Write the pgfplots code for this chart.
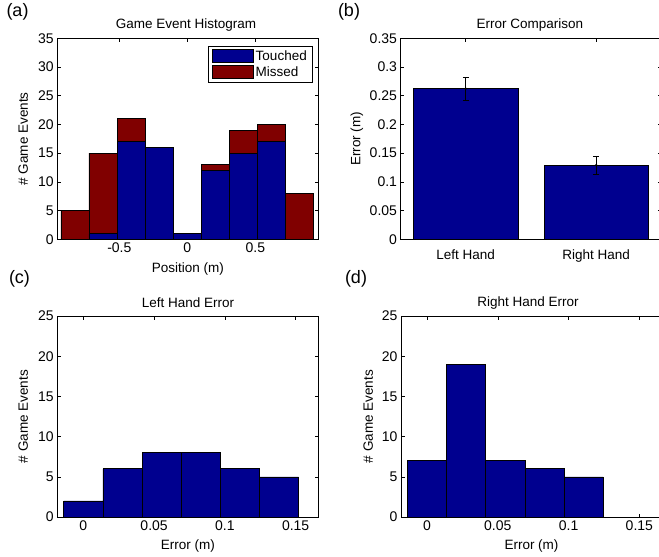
\documentclass[border=0pt]{standalone}
\usepackage{fontspec}
\setmainfont{Liberation Sans}
\usepackage{pgfplots}
\pgfplotsset{compat=1.18}
\definecolor{mblue}{RGB}{0,0,143}
\definecolor{mred}{RGB}{128,0,0}
\newcommand\fs{\fontsize{13.5}{16}\selectfont}
\newcommand\tfs{\fontsize{14}{16}\selectfont}
\pgfplotsset{mstyle/.style={
  width=261pt, height=201pt, scale only axis, anchor=north west,
  axis line style={black, line width=0.7pt},
  tick align=inside, xtick pos=both, ytick pos=both,
  xticklabel pos=lower, yticklabel pos=left,
  major tick length=3.5pt,
  every tick/.style={black, line width=0.6pt},
  tick label style={font=\tfs},
  label style={font=\fs},
  xlabel style={at={(axis description cs:0.5,-0.146)}, anchor=center},
  /pgf/number format/assume math mode=true,
  /pgf/number format/fixed,
  /pgf/number format/precision=2,
  scaled ticks=false,
},
rectlegend/.style={legend image code/.code={\draw[##1] (0pt,-6.5pt) rectangle (41pt,6.5pt);}}}
\begin{document}
\begin{tikzpicture}
\useasboundingbox (0pt,0pt) rectangle (659pt,-557pt);
\clip (0pt,0pt) rectangle (659pt,-557pt);

% (a)
\begin{axis}[mstyle, at={(57.3pt,-38.3pt)},
  ybar stacked, bar width=0.2066,
  xmin=-0.956, xmax=0.963, ymin=0, ymax=35,
  xtick={-0.5,0,0.5}, ytick={0,5,10,15,20,25,30,35},
  xlabel={Position (m)},
  ylabel={\# Game Events},
  ylabel style={at={(axis description cs:-0.131,0.5)}, anchor=center},
  legend style={at={(axis description cs:0.98,0.962)}, anchor=north east,
    font=\fs, draw=black, line width=0.6pt, inner xsep=4pt, inner ysep=2pt,
    cells={anchor=west}, row sep=1pt},
]
\addplot[fill=mblue, draw=black, line width=0.6pt, rectlegend]
  coordinates {(-0.8264,0) (-0.6198,1) (-0.4132,17) (-0.2066,16) (0,1) (0.2066,12) (0.4132,15) (0.6198,17) (0.8264,0)};
\addplot[fill=mred, draw=black, line width=0.6pt, rectlegend]
  coordinates {(-0.8264,5) (-0.6198,14) (-0.4132,4) (-0.2066,0) (0,0) (0.2066,1) (0.4132,4) (0.6198,3) (0.8264,8)};
\legend{Touched, Missed}
\end{axis}

% (b)
\begin{axis}[mstyle, at={(400.5pt,-38.3pt)},
  xmin=0.5, xmax=2.5, ymin=0, ymax=0.35,
  xtick={1,2}, xticklabels={Left Hand, Right Hand},
  xticklabel style={yshift=-7pt, font=\fs},
  ytick={0,0.05,0.1,0.15,0.2,0.25,0.3,0.35},
  ylabel={Error (m)},
  ylabel style={at={(axis description cs:-0.167,0.5)}, anchor=center},
]
\addplot[ybar, bar width=0.8, bar shift=0pt, fill=mblue, draw=black, line width=0.6pt]
  coordinates {(1,0.2625) (2,0.129)};
\addplot[black, only marks, mark=*, mark size=1pt,
  error bars/.cd, y dir=both, y explicit,
  error bar style={line width=0.6pt},
  error mark options={rotate=90, mark size=3pt, line width=0.6pt}]
  coordinates {(1,0.2625) +- (0,0.0197) (2,0.129) +- (0,0.0154)};
\end{axis}

% (c)
\begin{axis}[mstyle, at={(57.3pt,-316pt)},
  xmin=-0.0184, xmax=0.166, ymin=0, ymax=25,
  xtick={0,0.05,0.1,0.15}, ytick={0,5,10,15,20,25},
  xlabel={Error (m)},
  ylabel={\# Game Events},
  ylabel style={at={(axis description cs:-0.131,0.5)}, anchor=center},
]
\addplot[ybar, bar width=0.02766, bar shift=0pt, fill=mblue, draw=black, line width=0.6pt]
  coordinates {(0,2) (0.02766,6) (0.05532,8) (0.08298,8) (0.11064,6) (0.1383,5)};
\end{axis}

% (d)
\begin{axis}[mstyle, at={(401pt,-316pt)},
  xmin=-0.0184, xmax=0.166, ymin=0, ymax=25,
  xtick={0,0.05,0.1,0.15}, ytick={0,5,10,15,20,25},
  xlabel={Error (m)},
  ylabel={\# Game Events},
  ylabel style={at={(axis description cs:-0.126,0.5)}, anchor=center},
]
\addplot[ybar, bar width=0.02766, bar shift=0pt, fill=mblue, draw=black, line width=0.6pt]
  coordinates {(0,7) (0.02766,19) (0.05532,7) (0.08298,6) (0.11064,5)};
\end{axis}

\node[font=\fs] at (186pt,-25pt) {Game Event Histogram};
\node[font=\fs] at (530pt,-25pt) {Error Comparison};
\node[font=\fs] at (188pt,-302.7pt) {Left Hand Error};
\node[font=\fs] at (528pt,-302.7pt) {Right Hand Error};
\node[font=\fontsize{18}{20}\selectfont] at (17.5pt,-12pt) {(a)};
\node[font=\fontsize{18}{20}\selectfont] at (349pt,-12pt) {(b)};
\node[font=\fontsize{18}{20}\selectfont] at (19.5pt,-278.5pt) {(c)};
\node[font=\fontsize{18}{20}\selectfont] at (356pt,-278.5pt) {(d)};
\end{tikzpicture}
\end{document}
